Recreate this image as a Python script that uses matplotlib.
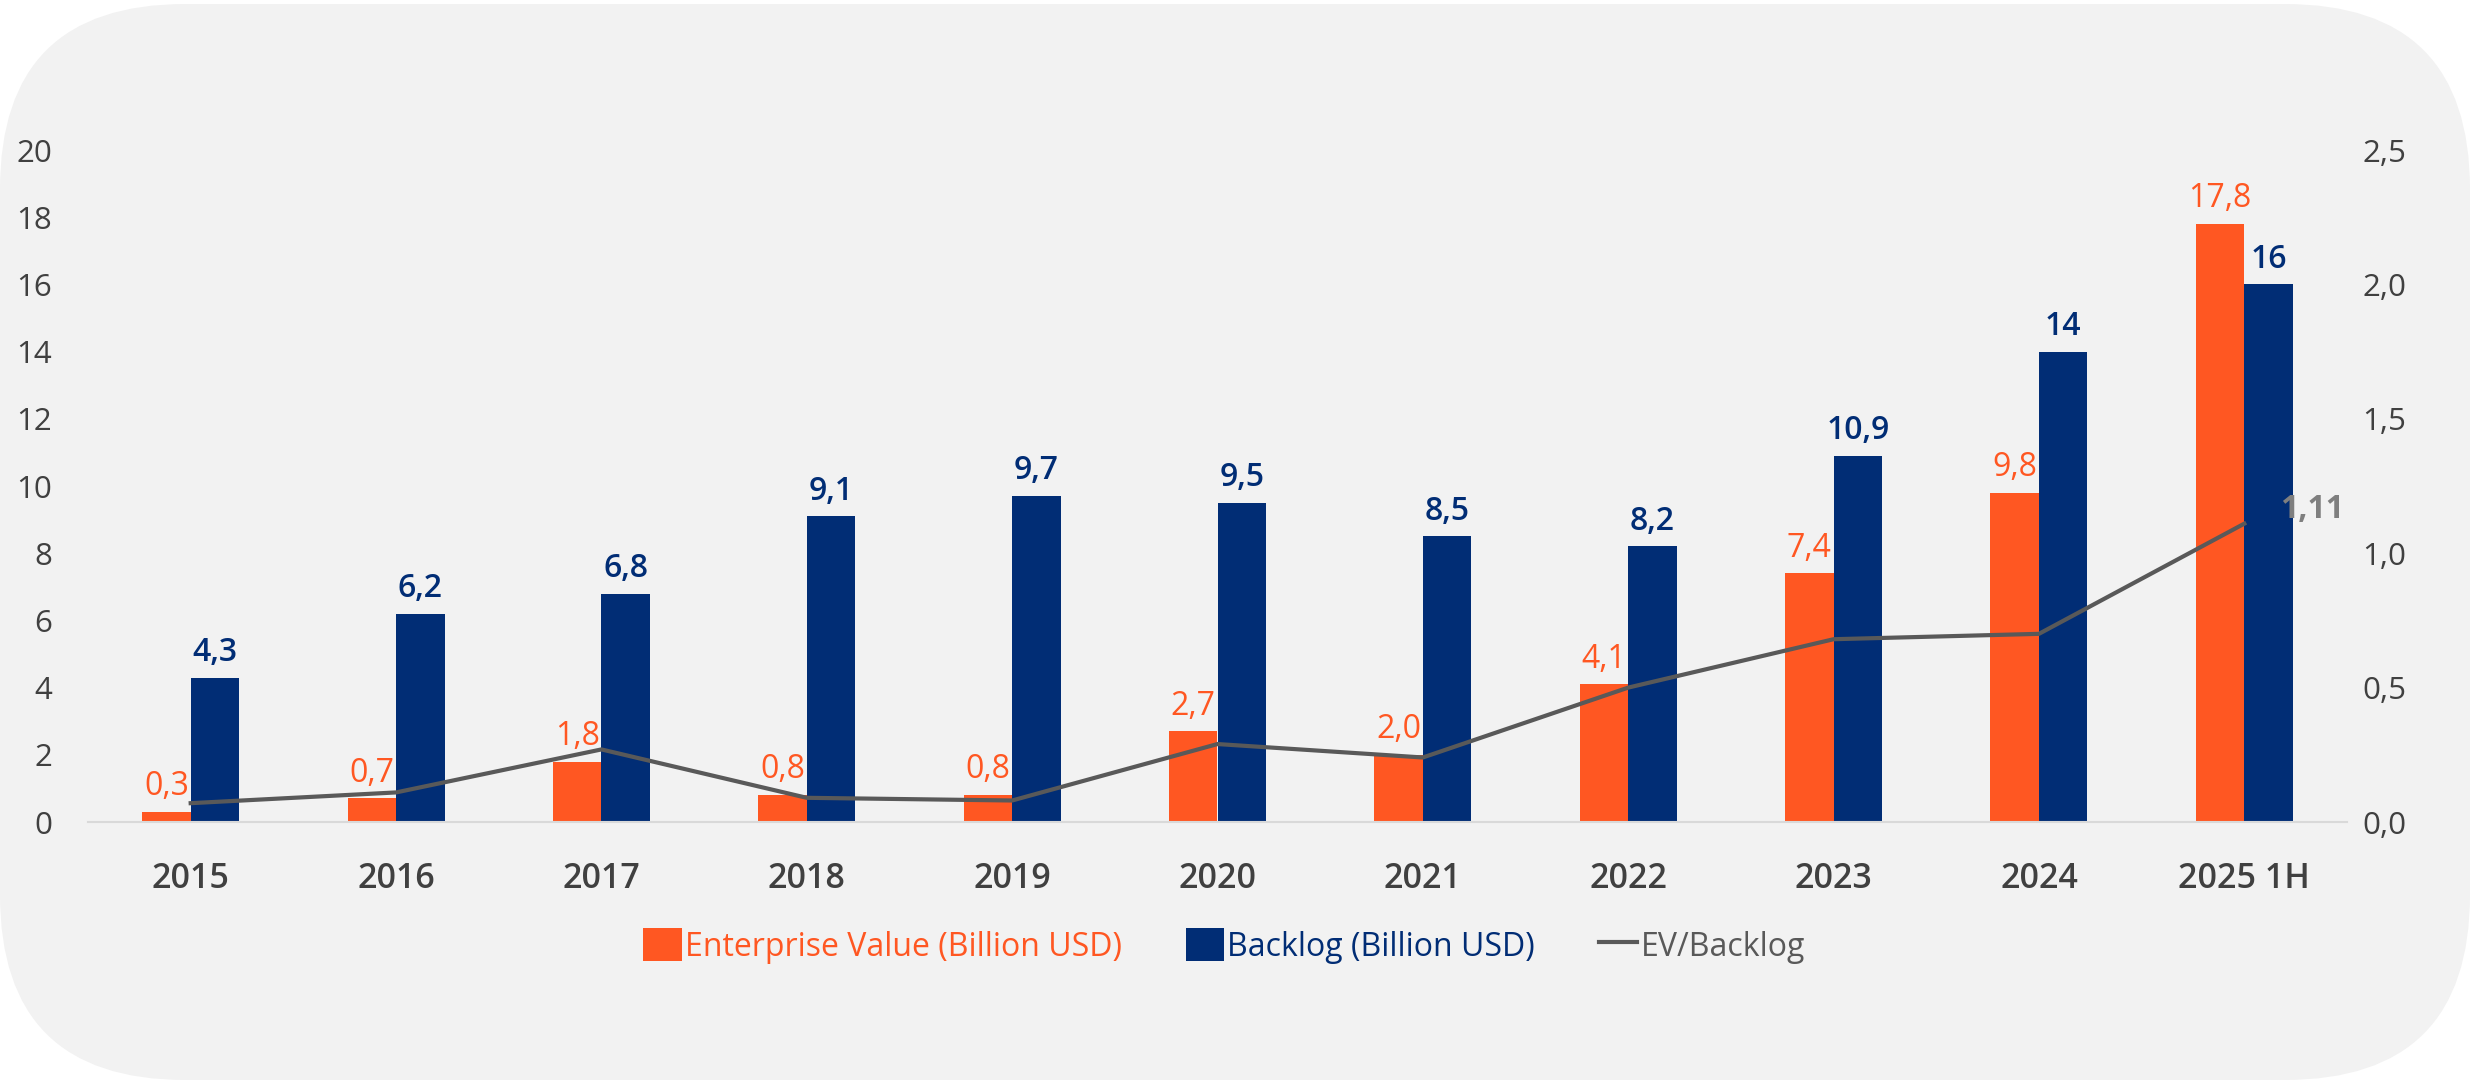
import matplotlib
matplotlib.use("Agg")
import matplotlib.pyplot as plt
import numpy as np
from matplotlib.patches import FancyBboxPatch
from matplotlib.transforms import IdentityTransform
from matplotlib.ticker import FuncFormatter, FixedLocator

# ---- data ----
categories = ["2015", "2016", "2017", "2018", "2019", "2020", "2021", "2022", "2023", "2024", "2025 1H"]
ev_values = [0.3, 0.7, 1.8, 0.8, 0.8, 2.7, 2.0, 4.1, 7.4, 9.8, 17.8]
backlog_values = [4.3, 6.2, 6.8, 9.1, 9.7, 9.5, 8.5, 8.2, 10.9, 14, 16]
ratio_values = [0.07, 0.11, 0.27, 0.09, 0.08, 0.29, 0.24, 0.50, 0.68, 0.70, 1.11]
ev_labels = ["0,3", "0,7", "1,8", "0,8", "0,8", "2,7", "2,0", "4,1", "7,4", "9,8", "17,8"]
backlog_labels = ["4,3", "6,2", "6,8", "9,1", "9,7", "9,5", "8,5", "8,2", "10,9", "14", "16"]
ratio_last_label = "1,11"
left_ticks = [0, 2, 4, 6, 8, 10, 12, 14, 16, 18, 20]
right_ticks = [0.0, 0.5, 1.0, 1.5, 2.0, 2.5]
series_names = ["Enterprise Value (Billion USD)", "Backlog (Billion USD)", "EV/Backlog"]

# ---- style ----
ORANGE = "#FF5722"
NAVY = "#012D75"
LINE = "#595959"
TICK = "#404040"
BG = "#F2F2F2"
plt.rcParams["font.family"] = ["Open Sans", "DejaVu Sans"]

W, H, DPI = 2473, 1081, 100
fig = plt.figure(figsize=(W / DPI, H / DPI), dpi=DPI, facecolor="white")

bg = FancyBboxPatch((0, 1), 2470, 1076,
                    boxstyle="round,pad=0,rounding_size=185",
                    transform=IdentityTransform(), facecolor=BG,
                    edgecolor="none", zorder=-10)
fig.patches.append(bg)

ax = fig.add_axes([88 / W, (H - 822) / H, (2347 - 88) / W, 672 / H], zorder=1)
ax.set_facecolor("none")
x = np.arange(len(categories))
bw = 0.236
b1 = ax.bar(x - bw / 2, ev_values, bw, color=ORANGE, label=series_names[0], zorder=2)
b2 = ax.bar(x + bw / 2, backlog_values, bw, color=NAVY, label=series_names[1], zorder=2)
ax.set_xlim(-0.5, len(categories) - 0.5)
ax.set_ylim(0, 20)
ax.yaxis.set_major_locator(FixedLocator(left_ticks))
ax.set_xticks(x)
ax.set_xticklabels(categories)
for s in ["top", "left", "right"]:
    ax.spines[s].set_visible(False)
ax.spines["bottom"].set_color("#D9D9D9")
ax.spines["bottom"].set_linewidth(1.5)
ax.tick_params(axis="y", length=0, pad=26, labelsize=22.5, labelcolor=TICK)
ax.tick_params(axis="x", length=0, pad=29, labelsize=24.5, labelcolor=TICK)
for t in ax.get_xticklabels():
    t.set_fontweight("semibold")

for xi, v, lab in zip(x, ev_values, ev_labels):
    ax.annotate(lab, (xi - bw / 2, v), xytext=(0, 12), textcoords="offset points",
                ha="center", va="baseline", color=ORANGE, fontsize=23)
for xi, v, lab in zip(x, backlog_values, backlog_labels):
    ax.annotate(lab, (xi + bw / 2, v), xytext=(0, 12), textcoords="offset points",
                ha="center", va="baseline", color=NAVY, fontsize=23, fontweight="semibold")

ax2 = ax.twinx()
ax2.set_ylim(0, 2.5)
ax2.yaxis.set_major_locator(FixedLocator(right_ticks))
ax2.yaxis.set_major_formatter(FuncFormatter(lambda v, p: f"{v:.1f}".replace(".", ",")))
for s in ["top", "left", "right", "bottom"]:
    ax2.spines[s].set_visible(False)
ax2.tick_params(axis="y", length=0, pad=11, labelsize=22.5, labelcolor=TICK)
ln, = ax2.plot(x, ratio_values, color=LINE, lw=3, label=series_names[2], zorder=3)
ax2.annotate(ratio_last_label, (x[-1], ratio_values[-1]), xytext=(26, 10),
             textcoords="offset points", ha="left", va="center",
             color="#7F7F7F", fontsize=23, fontweight="bold")

leg = fig.legend([b1, b2, ln], series_names, loc="center",
                 bbox_to_anchor=(0.495, (H - 946) / H), ncol=3, frameon=False,
                 fontsize=23, handlelength=1.2, handleheight=1.2,
                 handletextpad=0.1, columnspacing=2.0,
                 labelcolor=[ORANGE, NAVY, LINE])

fig.savefig("out.png", dpi=DPI, facecolor="white")
